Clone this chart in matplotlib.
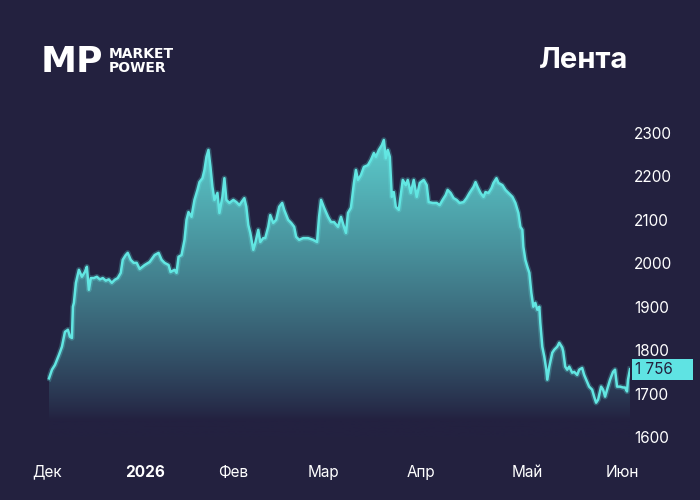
import numpy as np
import matplotlib
matplotlib.use("Agg")
from matplotlib import pyplot as plt
from matplotlib.patches import Rectangle
import matplotlib.transforms as mtransforms

# timeline position (sessions scale) and close price
t = [0, 3, 6, 10, 13, 16, 19, 21, 23, 24, 25, 27, 30, 33, 36, 38, 40, 42, 45, 48,
     51, 54, 57, 60, 63, 66, 69, 72, 74, 77, 79, 82, 85, 88, 91, 96, 101, 106, 110, 113,
     116, 120, 122, 126, 128, 130, 133, 136, 138, 140, 143, 146, 149, 151, 154, 156, 158, 160, 162, 164,
     166, 169, 171, 174, 176, 178, 181, 185, 188, 191, 196, 198, 200, 202, 205, 207, 210, 212, 215, 217,
     220, 222, 225, 228, 231, 234, 236, 240, 243, 246, 248, 251, 255, 260, 265, 269, 271, 273, 276, 280,
     283, 286, 290, 293, 296, 298, 300, 303, 306, 308, 310, 313, 316, 320, 323, 326, 328, 331, 334, 336,
     338, 340, 342, 344, 346, 348, 351, 355, 358, 360, 363, 366, 369, 372, 376, 379, 381, 385, 389, 392,
     395, 398, 400, 403, 406, 409, 412, 416, 419, 422, 426, 428, 430, 433, 436, 438, 441, 444, 446, 449,
     451, 455, 458, 461, 465, 468, 471, 473, 475, 476, 478, 480, 482, 484, 486, 488, 490, 492, 493, 495,
     497, 499, 500, 502, 505, 507, 510, 512, 515, 516, 518, 520, 522, 525, 527, 530, 532, 535, 537, 540,
     542, 545, 547, 549, 551, 554, 556, 558, 560, 563, 566, 568, 570, 573, 576, 578, 580, 581, 583]
price = [1735, 1755, 1766, 1789, 1808, 1842, 1847, 1831, 1828, 1900, 1909, 1955, 1985, 1969, 1980, 1992, 1939, 1966, 1966, 1969,
         1963, 1966, 1960, 1963, 1955, 1962, 1966, 1978, 2008, 2019, 2024, 2008, 2001, 2001, 1987, 1996, 2003, 2019, 2024, 2008,
         2001, 1996, 1980, 1985, 1978, 2015, 2019, 2054, 2100, 2118, 2107, 2146, 2169, 2187, 2196, 2215, 2245, 2261, 2222, 2176,
         2146, 2162, 2116, 2153, 2196, 2146, 2139, 2146, 2141, 2134, 2150, 2130, 2088, 2070, 2031, 2047, 2077, 2049, 2058, 2058,
         2084, 2111, 2093, 2100, 2130, 2139, 2123, 2100, 2093, 2084, 2061, 2054, 2058, 2058, 2054, 2049, 2107, 2146, 2128, 2107,
         2095, 2095, 2084, 2107, 2084, 2070, 2116, 2128, 2185, 2215, 2192, 2203, 2222, 2226, 2238, 2254, 2245, 2261, 2272, 2284,
         2242, 2261, 2245, 2153, 2164, 2130, 2123, 2192, 2180, 2192, 2162, 2192, 2153, 2185, 2192, 2180, 2141, 2139, 2139, 2134,
         2146, 2157, 2169, 2162, 2150, 2146, 2139, 2141, 2150, 2162, 2176, 2187, 2176, 2162, 2153, 2164, 2162, 2173, 2185, 2196,
         2185, 2180, 2169, 2162, 2153, 2139, 2116, 2084, 2077, 2038, 2008, 1992, 1978, 1932, 1900, 1909, 1893, 1900, 1863, 1808,
         1785, 1755, 1732, 1762, 1794, 1801, 1808, 1817, 1806, 1797, 1762, 1755, 1762, 1748, 1750, 1743, 1755, 1759, 1743, 1727,
         1716, 1709, 1693, 1679, 1686, 1716, 1709, 1693, 1709, 1732, 1750, 1755, 1716, 1716, 1714, 1714, 1705, 1732, 1756]

month_pos = [-2, 96, 185, 275, 373, 480, 575]
month_labels = ["Дек", "2026", "Фев", "Мар", "Апр", "Май", "Июн"]
y_ticks = [1600, 1700, 1800, 1900, 2000, 2100, 2200, 2300]
last_label = "1 756"

bg = "#23213f"
line_c = "#62e6e2"
font = ["Inter", "DejaVu Sans"]
plt.rcParams['font.family'] = font

fig = plt.figure(figsize=(7, 5), dpi=100, facecolor=bg)
ax = fig.add_axes([47/700, 1-437/500, 583/700, 317/500])
ax.set_facecolor(bg)
ax.set_xlim(0, 583)
ax.set_ylim(1600, 2330)

# gradient fill under the line
vals = np.linspace(1600, 2330, 400)
tt = np.clip((vals - 1640) / (2290 - 1640), 0, 1) ** 0.85
c0 = np.array([35, 33, 64]) / 255
c1 = np.array([92, 205, 205]) / 255
grad = c0[None, :] + tt[:, None] * (c1 - c0)[None, :]
img = ax.imshow(grad[:, None, :], extent=[0, 583, 1600, 2330], origin="lower",
                aspect="auto", zorder=1)
poly = ax.fill_between(t, price, 1600, facecolor="none", edgecolor="none")
img.set_clip_path(poly.get_paths()[0], transform=ax.transData)

ax.plot(t, price, color=line_c, lw=4, alpha=0.25, zorder=2, solid_joinstyle="round")
ax.plot(t, price, color=line_c, lw=1.8, zorder=3, solid_joinstyle="round")

for s in ax.spines.values():
    s.set_visible(False)

ax.yaxis.tick_right()
ax.set_yticks(y_ticks)
ax.set_yticklabels([str(v) for v in y_ticks])
ax.tick_params(axis="y", length=0, pad=3, labelsize=11, labelcolor="white")
ax.set_xticks(month_pos)
ax.set_xticklabels(month_labels)
ax.tick_params(axis="x", length=0, pad=20, labelsize=11, labelcolor="white")
for lab in ax.get_xticklabels():
    if lab.get_text() == "2026":
        lab.set_fontweight("bold")

# last price marker
tr = mtransforms.blended_transform_factory(ax.transAxes, ax.transData)
ax.add_patch(Rectangle((1.0034, 1731), 0.105, 49, transform=tr, facecolor="#5fe3e3",
                       edgecolor="none", clip_on=False, zorder=5))
ax.text(1.009, 1755, last_label, transform=tr, color=bg, fontsize=11,
        va="center", ha="left", zorder=6)

# header
fig.text(628/700, 1-60/500, "Лента", color="white", fontsize=21, fontweight="bold",
         ha="right", va="center")
fig.text(41/700, 1-62/500, "MP", color="white", fontsize=26, fontweight="black",
         ha="left", va="center", family=["DejaVu Sans"])
fig.text(109/700, 1-61/500, "MARKET\nPOWER", color="white", fontsize=10, fontweight="bold",
         ha="left", va="center", linespacing=0.95, family=["DejaVu Sans"])

fig.savefig("out.png", dpi=100, facecolor=bg)
